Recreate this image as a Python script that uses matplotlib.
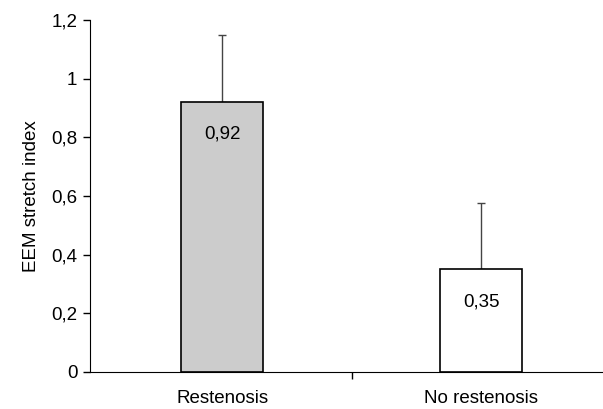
import matplotlib
matplotlib.use("Agg")
import matplotlib.pyplot as plt
from matplotlib.ticker import FuncFormatter

plt.rcParams['font.family'] = ['Liberation Sans', 'DejaVu Sans']

categories = ['Restenosis', 'No restenosis']
values = [0.92, 0.35]
errors = [0.23, 0.225]
colors = ['#cccccc', 'white']
yticks = [0, 0.2, 0.4, 0.6, 0.8, 1, 1.2]

fs = 13.5

fig = plt.figure(figsize=(6.03, 4.09), dpi=100)
ax = fig.add_axes([90/603, 37/409, 513/603, 352/409])

x = [0, 1]
ax.bar(x, values, width=0.317, color=colors, edgecolor='black', linewidth=1.2, zorder=2)
ax.errorbar(x, values, yerr=[[0, 0], errors], fmt='none', ecolor='#444444',
            elinewidth=1, capsize=3, capthick=1, zorder=1)

# etiquettes des valeurs dans les barres
for xi, v in zip(x, values):
    ax.text(xi, v - 0.11, ('%.2f' % v).replace('.', ','), ha='center', va='center', fontsize=fs)

ax.set_xlim(-0.51, 1.47)
ax.set_ylim(0, 1.2)
ax.set_yticks(yticks)
ax.yaxis.set_major_formatter(FuncFormatter(lambda v, p: ('%g' % v).replace('.', ',')))
ax.set_xticks([0.5])
ax.set_xticklabels([''])
for xi, c in zip(x, categories):
    ax.text(xi, -0.06, c, ha='center', va='top', fontsize=fs)

ax.spines['top'].set_visible(False)
ax.spines['right'].set_visible(False)
ax.tick_params(axis='both', direction='out', length=5, width=1, labelsize=fs, pad=4)
ax.set_ylabel('EEM stretch index', fontsize=fs, labelpad=8)

fig.savefig('out.png', dpi=100)
